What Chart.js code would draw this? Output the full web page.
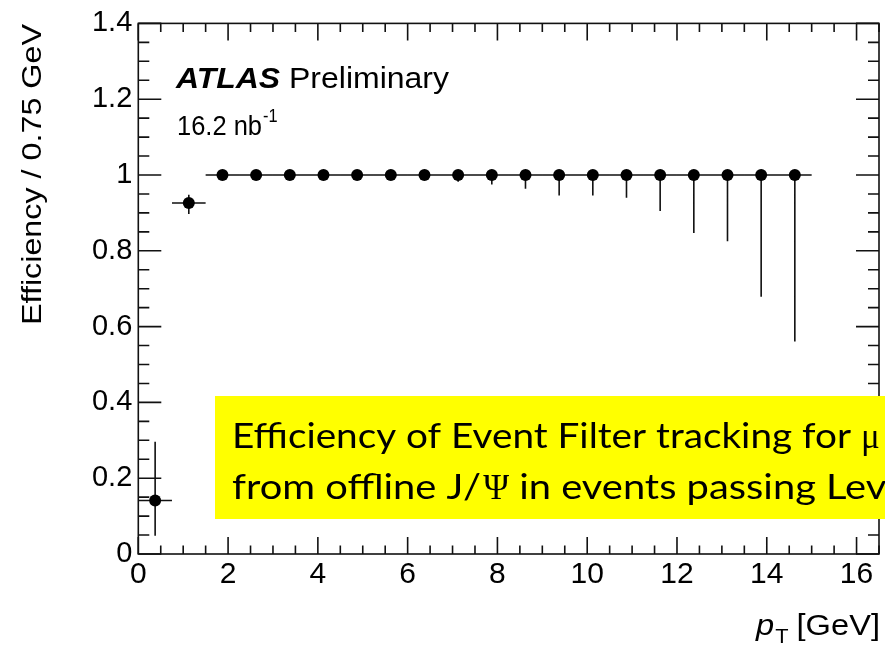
<!DOCTYPE html>
<html>
<head>
<meta charset="utf-8">
<script src="https://cdn.jsdelivr.net/npm/chart.js@4.4.1/dist/chart.umd.min.js"></script>
<style>
  html, body { margin: 0; padding: 0; background: #fff; }
  #wrap { width: 885px; height: 648px; position: relative; }
  canvas { display: block; }
</style>
</head>
<body>
<div id="wrap"><canvas id="eff" width="885" height="648"></canvas></div>
<script>
// pT bin centres [GeV], 0.75 GeV wide bins from 0 to 15 GeV
const ptCenters = [0.375, 1.125, 1.875, 2.625, 3.375, 4.125, 4.875, 5.625, 6.375, 7.125,
                   7.875, 8.625, 9.375, 10.125, 10.875, 11.625, 12.375, 13.125, 13.875, 14.625];
// half bin width (horizontal error bar)
const ptHalfWidth = [0.375, 0.375, 0.375, 0.375, 0.375, 0.375, 0.375, 0.375, 0.375, 0.375,
                     0.375, 0.375, 0.375, 0.375, 0.375, 0.375, 0.375, 0.375, 0.375, 0.375];
// Event Filter tracking efficiency per bin
const efficiency = [0.141, 0.926, 1, 1, 1, 1, 1, 1, 1, 1,
                    1, 1, 1, 1, 1, 1, 1, 1, 1, 1];
// asymmetric statistical uncertainties
const errUp   = [0.155, 0.022, 0, 0, 0, 0, 0, 0, 0, 0,
                 0, 0, 0, 0, 0, 0, 0, 0, 0, 0];
const errDown = [0.093, 0.029, 0.002, 0.003, 0.004, 0.005, 0.007, 0.009, 0.011, 0.018,
                 0.025, 0.036, 0.054, 0.054, 0.060, 0.095, 0.153, 0.175, 0.321, 0.439];

const xTickValues = [0, 2, 4, 6, 8, 10, 12, 14, 16];
const yTickValues = [0, 0.2, 0.4, 0.6, 0.8, 1, 1.2, 1.4];

const SANS = '"Liberation Sans", Arial, Helvetica, sans-serif';

// horizontally scaled text helper; returns drawn width
function drawText(ctx, str, x, y, font, sx, align) {
  ctx.save();
  ctx.font = font;
  ctx.textBaseline = 'alphabetic';
  ctx.textAlign = 'left';
  const w = ctx.measureText(str).width * sx;
  const x0 = align === 'right' ? x - w : x;
  ctx.translate(x0, y);
  ctx.scale(sx, 1);
  ctx.fillText(str, 0, 0);
  ctx.restore();
  return w;
}
function widthOf(ctx, str, font) {
  ctx.save(); ctx.font = font; const w = ctx.measureText(str).width; ctx.restore(); return w;
}

// vertical + horizontal error bars
const errorBars = {
  id: 'errorBars',
  beforeDatasetsDraw(chart) {
    const { ctx, scales: { x, y } } = chart;
    ctx.save();
    ctx.strokeStyle = '#111';
    ctx.lineWidth = 1.6;
    ctx.beginPath();
    ptCenters.forEach((c, i) => {
      const px = x.getPixelForValue(c);
      const py = y.getPixelForValue(efficiency[i]);
      ctx.moveTo(x.getPixelForValue(c - ptHalfWidth[i]), py);
      ctx.lineTo(x.getPixelForValue(c + ptHalfWidth[i]), py);
      ctx.moveTo(px, y.getPixelForValue(efficiency[i] + errUp[i]));
      ctx.lineTo(px, y.getPixelForValue(efficiency[i] - errDown[i]));
    });
    ctx.stroke();
    ctx.restore();
  }
};

// frame with inward ticks on all four sides
const frameTicks = {
  id: 'frameTicks',
  afterDatasetsDraw(chart) {
    const { ctx, chartArea: a, scales: { x, y } } = chart;
    ctx.save();
    ctx.strokeStyle = '#111';
    ctx.lineWidth = 1.6;
    ctx.strokeRect(a.left, a.top, a.right - a.left, a.bottom - a.top);
    ctx.beginPath();
    for (let k = 0; k <= 33; k++) {
      const v = k * 0.5;
      const px = x.getPixelForValue(v);
      const len = (k % 4 === 0) ? 17 : 8.5;
      ctx.moveTo(px, a.bottom); ctx.lineTo(px, a.bottom - len);
      ctx.moveTo(px, a.top); ctx.lineTo(px, a.top + len);
    }
    for (let k = 0; k <= 28; k++) {
      const v = k * 0.05;
      const py = y.getPixelForValue(v);
      const len = (k % 4 === 0) ? 23 : 11;
      ctx.moveTo(a.left, py); ctx.lineTo(a.left + len, py);
      ctx.moveTo(a.right, py); ctx.lineTo(a.right - len, py);
    }
    ctx.stroke();
    ctx.restore();
  }
};

// labels, axis titles and the highlighted caption box
const annotations = {
  id: 'annotations',
  afterDraw(chart) {
    const ctx = chart.ctx;
    ctx.save();
    ctx.fillStyle = '#000';

    // ATLAS Preliminary
    const fA = 'italic bold 29px ' + SANS;
    const fP = '29px ' + SANS;
    drawText(ctx, 'ATLAS', 176, 88, fA, 104 / widthOf(ctx, 'ATLAS', fA), 'left');
    drawText(ctx, 'Preliminary', 289, 88, fP, 160 / widthOf(ctx, 'Preliminary', fP), 'left');

    // luminosity
    const fL = '28px ' + SANS;
    const sL = 85 / widthOf(ctx, '16.2 nb', fL);
    const wL = drawText(ctx, '16.2 nb', 177, 135, fL, sL, 'left');
    drawText(ctx, '-1', 177 + wL + 1, 122, '18px ' + SANS, sL, 'left');

    // y-axis title (rotated)
    const fY = '28px ' + SANS;
    const yTitle = 'Efficiency / 0.75 GeV';
    const sY = 301 / widthOf(ctx, yTitle, fY);
    ctx.save();
    ctx.translate(41, 325);
    ctx.rotate(-Math.PI / 2);
    ctx.scale(sY, 1);
    ctx.font = fY;
    ctx.textBaseline = 'alphabetic';
    ctx.fillText(yTitle, 0, 0);
    ctx.restore();

    // x-axis title: p_T [GeV]
    const fp = 'italic 30px ' + SANS, fT = '20px ' + SANS, fG = '30px ' + SANS;
    const nat = widthOf(ctx, 'p', fp) + widthOf(ctx, 'T', fT) + widthOf(ctx, ' [GeV]', fG);
    const sX = 124 / nat;
    let cx = 880 - nat * sX;
    cx += drawText(ctx, 'p', cx, 635, fp, sX, 'left');
    cx += drawText(ctx, 'T', cx + 1, 643, fT, sX, 'left');
    drawText(ctx, ' [GeV]', cx, 635, fG, sX, 'left');

    // caption box
    ctx.fillStyle = '#ffff00';
    ctx.fillRect(215, 396, 700, 123);
    ctx.fillStyle = '#000';
    const fC = '34px Lato, "Open Sans", sans-serif';
    const fS = '35px "Liberation Serif", "DejaVu Serif", serif';
    const sC = 619 / widthOf(ctx, 'Efficiency of Event Filter tracking for', fC);
    let tx = 232;
    tx += drawText(ctx, 'Efficiency of Event Filter tracking for ', tx, 448, fC, sC, 'left');
    drawText(ctx, 'μ', tx, 448, fS, 1, 'left');
    const s2 = sC * 1.03;
    tx = 232;
    tx += drawText(ctx, 'from offline J/', tx, 499, fC, s2, 'left');
    tx += drawText(ctx, 'Ψ', tx + 2, 499, fS, 1, 'left') + 2;
    drawText(ctx, ' in events passing Level', tx, 499, fC, s2, 'left');

    ctx.restore();
  }
};

new Chart(document.getElementById('eff'), {
  type: 'scatter',
  data: {
    datasets: [{
      data: ptCenters.map((c, i) => ({ x: c, y: efficiency[i] })),
      pointRadius: 6,
      pointHoverRadius: 6,
      pointBackgroundColor: '#000',
      pointBorderWidth: 0,
      showLine: false
    }]
  },
  options: {
    responsive: false,
    animation: false,
    devicePixelRatio: 1,
    layout: { padding: { left: 0, right: 4, top: 22, bottom: 0 } },
    plugins: { legend: { display: false }, tooltip: { enabled: false } },
    scales: {
      x: {
        type: 'linear', position: 'bottom', min: 0, max: 16.5,
        grid: { display: false, drawTicks: false },
        border: { display: false },
        afterBuildTicks: s => { s.ticks = xTickValues.map(v => ({ value: v })); },
        afterFit: s => { s.height = 94; },
        ticks: {
          autoSkip: false, maxRotation: 0, padding: 3, color: '#000',
          font: { family: SANS, size: 30 },
          callback: v => String(+(+v).toFixed(2))
        }
      },
      y: {
        type: 'linear', position: 'left', min: 0, max: 1.4,
        grid: { display: false, drawTicks: false },
        border: { display: false },
        afterBuildTicks: s => { s.ticks = yTickValues.map(v => ({ value: v })); },
        afterFit: s => { s.width = 138.3; },
        ticks: {
          autoSkip: false, padding: 6, color: '#000',
          font: { family: SANS, size: 29 },
          callback: v => String(+(+v).toFixed(2))
        }
      }
    }
  },
  plugins: [errorBars, frameTicks, annotations]
});
</script>
</body>
</html>
